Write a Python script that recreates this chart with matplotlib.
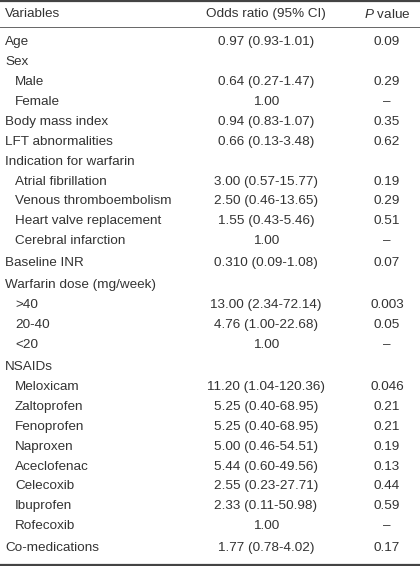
import matplotlib
matplotlib.use("Agg")
import matplotlib.pyplot as plt

header = ["Variables", "Odds ratio (95% CI)", "P value"]
labels = ["Age", "Sex", "Male", "Female", "Body mass index", "LFT abnormalities",
          "Indication for warfarin", "Atrial fibrillation", "Venous thromboembolism",
          "Heart valve replacement", "Cerebral infarction", "Baseline INR",
          "Warfarin dose (mg/week)", ">40", "20-40", "<20", "NSAIDs", "Meloxicam",
          "Zaltoprofen", "Fenoprofen", "Naproxen", "Aceclofenac", "Celecoxib",
          "Ibuprofen", "Rofecoxib", "Co-medications"]
indent = [0, 0, 1, 1, 0, 0, 0, 1, 1, 1, 1, 0, 0, 1, 1, 1, 0, 1, 1, 1, 1, 1, 1, 1, 1, 0]
odds = ["0.97 (0.93-1.01)", "", "0.64 (0.27-1.47)", "1.00", "0.94 (0.83-1.07)",
        "0.66 (0.13-3.48)", "", "3.00 (0.57-15.77)", "2.50 (0.46-13.65)",
        "1.55 (0.43-5.46)", "1.00", "0.310 (0.09-1.08)", "", "13.00 (2.34-72.14)",
        "4.76 (1.00-22.68)", "1.00", "", "11.20 (1.04-120.36)", "5.25 (0.40-68.95)",
        "5.25 (0.40-68.95)", "5.00 (0.46-54.51)", "5.44 (0.60-49.56)",
        "2.55 (0.23-27.71)", "2.33 (0.11-50.98)", "1.00", "1.77 (0.78-4.02)"]
pvals = ["0.09", "", "0.29", "–", "0.35", "0.62", "", "0.19", "0.29", "0.51", "–",
         "0.07", "", "0.003", "0.05", "–", "", "0.046", "0.21", "0.21", "0.19", "0.13",
         "0.44", "0.59", "–", "0.17"]

plt.rcParams["font.family"] = ["Liberation Sans", "DejaVu Sans"]
plt.rcParams["mathtext.fontset"] = "custom"
plt.rcParams["mathtext.it"] = "Liberation Sans:italic"
plt.rcParams["mathtext.rm"] = "Liberation Sans"

W, H = 420, 566
fig = plt.figure(figsize=(W / 100, H / 100), dpi=100)
ax = fig.add_axes([0, 0, 1, 1])
ax.set_xlim(0, W)
ax.set_ylim(H, 0)
ax.axis("off")

fs = 9.7
col = "#333333"
gap_before = {11, 12, 16, 25}
x_lab, x_ind, x_or, x_p = 5, 15, 266, 387

ax.axhline(1.2, color="#444444", lw=1.6)
ax.axhline(27, color="#666666", lw=0.7)
ax.axhline(564.5, color="#444444", lw=1.6)

ax.text(x_lab, 14, header[0], fontsize=fs, color=col, va="center", ha="left")
ax.text(x_or, 14, header[1], fontsize=fs, color=col, va="center", ha="center")
p_head = header[2].split(" ", 1)
ax.text(x_p, 14, r"$\it{" + p_head[0] + "}$" + " " + p_head[1], fontsize=fs,
        color=col, va="center", ha="center")

extra = 0.0
for i, lab in enumerate(labels):
    if i in gap_before:
        extra += 2.0
    yy = 42.0 + 19.93 * i + extra
    ax.text(x_ind if indent[i] else x_lab, yy, lab, fontsize=fs, color=col,
            va="center", ha="left")
    if odds[i]:
        ax.text(x_or, yy, odds[i], fontsize=fs, color=col, va="center", ha="center")
    if pvals[i]:
        ax.text(x_p, yy, pvals[i], fontsize=fs, color=col, va="center", ha="center")

fig.savefig("out.png", dpi=100)
